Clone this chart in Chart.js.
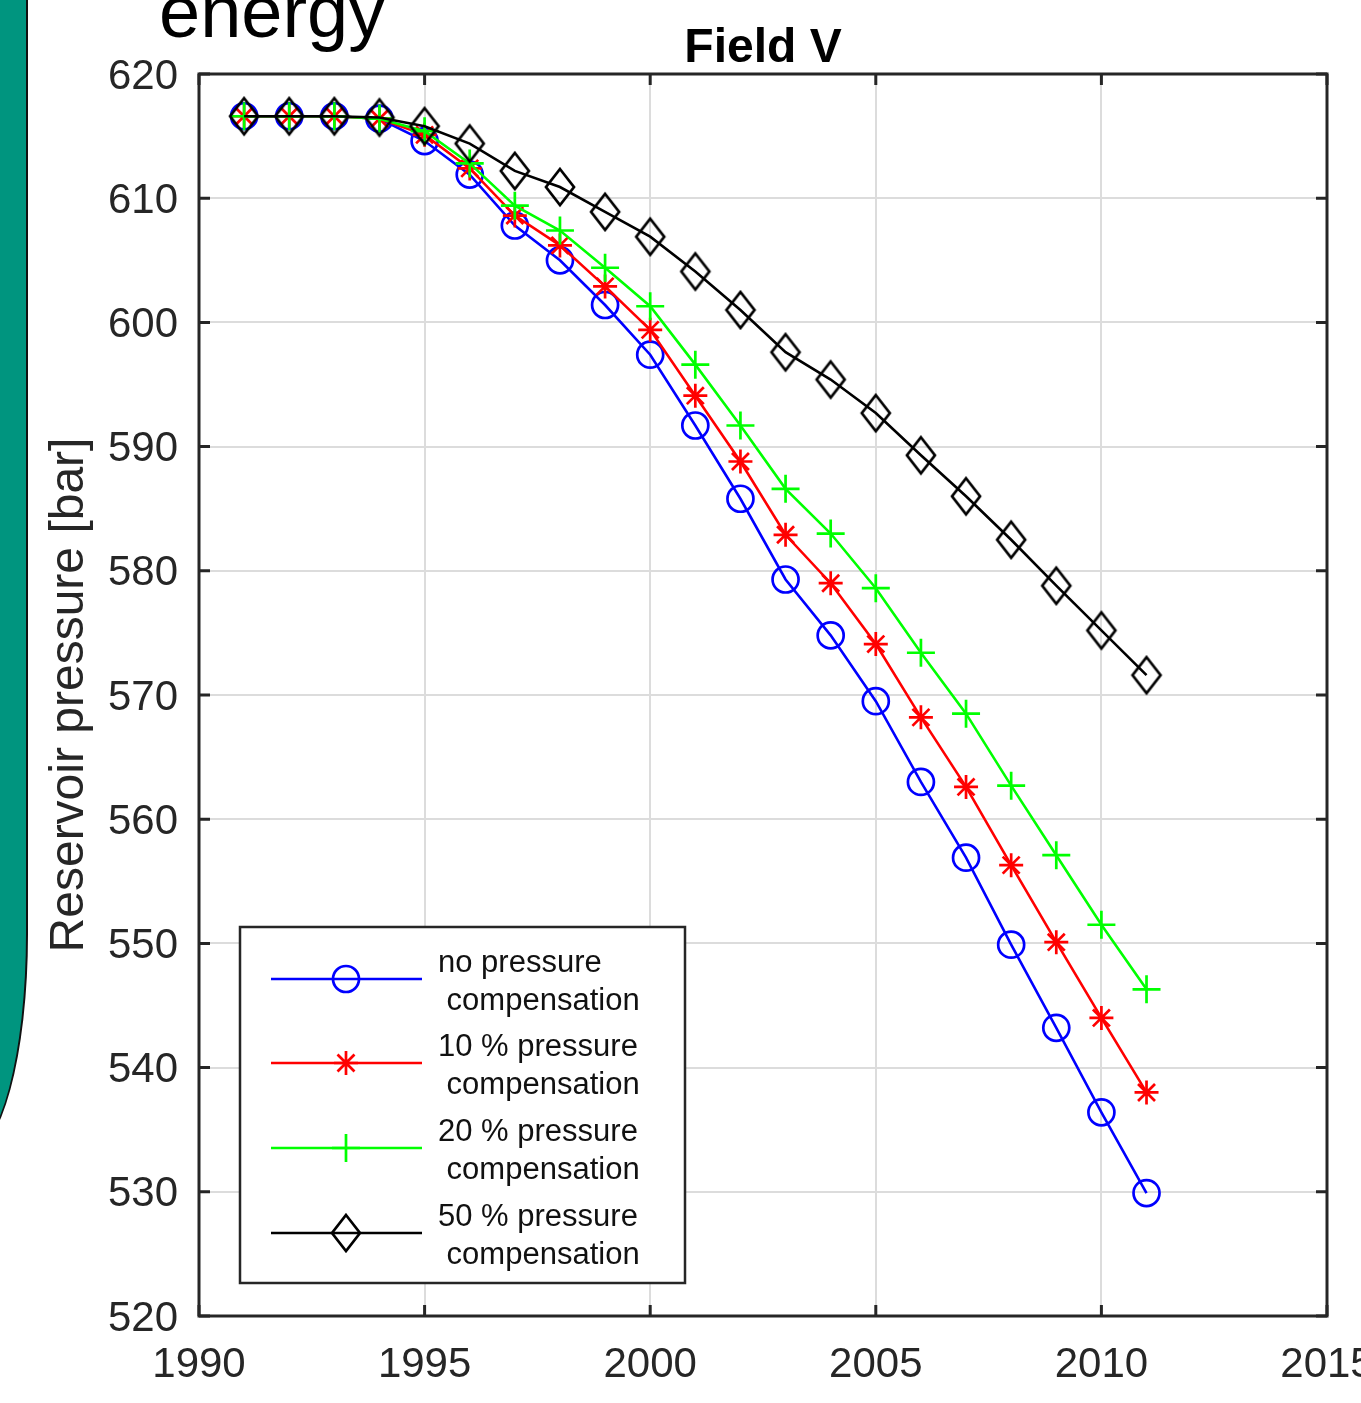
<!DOCTYPE html>
<html>
<head>
<meta charset="utf-8">
<script src="https://cdn.jsdelivr.net/npm/chart.js@4.4.1/dist/chart.umd.min.js"></script>
<style>
  html, body { margin: 0; padding: 0; background: #fff; }
  #wrap { position: relative; width: 1361px; height: 1403px; overflow: hidden; }
  #myChart { position: absolute; left: 0; top: 0; }
  #panel {
    position: absolute; left: -300px; top: -20px; width: 328px; height: 1174px;
    box-sizing: border-box; background: #00957f; border: 2px solid #111;
    border-bottom-right-radius: 60px 220px;
  }
  #word {
    position: absolute; left: 159px; top: -25px;
    font: 74px/74px "Liberation Sans", Arial, sans-serif; color: #000;
  }
</style>
</head>
<body>
<div id="wrap">
  <canvas id="myChart" width="1361" height="1403"></canvas>
  <div id="panel"></div>
  <div id="word">energy</div>
</div>
<script>
// reservoir pressure per year

const years = [1991, 1992, 1993, 1994, 1995, 1996, 1997, 1998, 1999, 2000,
               2001, 2002, 2003, 2004, 2005, 2006, 2007, 2008, 2009, 2010, 2011];

const noComp = [616.6, 616.6, 616.6, 616.4, 614.6, 611.9, 607.8, 605.0, 601.4, 597.4,
                591.7, 585.8, 579.3, 574.8, 569.5, 563.0, 556.9, 549.9, 543.2, 536.4, 529.9];
const comp10 = [616.6, 616.6, 616.6, 616.4, 615.1, 612.4, 608.6, 606.2, 602.9, 599.4,
                594.1, 588.8, 582.9, 579.0, 574.1, 568.2, 562.6, 556.3, 550.1, 544.0, 538.0];
const comp20 = [616.6, 616.6, 616.6, 616.4, 615.4, 612.8, 609.4, 607.4, 604.4, 601.3,
                596.6, 591.7, 586.6, 583.0, 578.6, 573.4, 568.5, 562.7, 557.1, 551.5, 546.3];
const comp50 = [616.6, 616.6, 616.6, 616.5, 615.8, 614.4, 612.2, 610.9, 608.9, 606.9,
                604.1, 601.0, 597.6, 595.4, 592.7, 589.3, 586.0, 582.5, 578.8, 575.2, 571.6];

const seriesNames = [
  ['no pressure', ' compensation'],
  ['10 % pressure', ' compensation'],
  ['20 % pressure', ' compensation'],
  ['50 % pressure', ' compensation']
];

const xTicks = [1990, 1995, 2000, 2005, 2010, 2015];
const yTicks = [520, 530, 540, 550, 560, 570, 580, 590, 600, 610, 620];

const FONT = '"Liberation Sans", Arial, sans-serif';
const AXIS = '#262626';

// matlab style diamond is taller than wide
function makeDiamond() {
  const c = document.createElement('canvas');
  c.width = 34; c.height = 42;
  const g = c.getContext('2d');
  g.strokeStyle = '#000';
  g.lineWidth = 2.7;
  g.beginPath();
  g.moveTo(17, 3); g.lineTo(31, 21); g.lineTo(17, 39); g.lineTo(3, 21);
  g.closePath();
  g.stroke();
  return c;
}
const diamond = makeDiamond();

function pts(vals) {
  return years.map((yr, i) => ({ x: yr, y: vals[i] }));
}

function series(i, vals, color, style, radius, order) {
  return {
    label: seriesNames[i].join(''),
    data: pts(vals),
    borderColor: color,
    backgroundColor: 'transparent',
    borderWidth: 2.6,
    pointStyle: style,
    pointRadius: radius,
    pointBorderColor: color,
    pointBackgroundColor: 'transparent',
    pointBorderWidth: 2.7,
    tension: 0,
    fill: false,
    order: order
  };
}

function drawMarker(ctx, style, x, y, r) {
  if (typeof style !== 'string') {
    ctx.drawImage(style, x - style.width / 2, y - style.height / 2);
    return;
  }
  ctx.beginPath();
  if (style === 'circle') {
    ctx.arc(x, y, r, 0, Math.PI * 2);
  } else {
    const n = style === 'star' ? 4 : 2;
    for (let k = 0; k < n; k++) {
      const a = k * Math.PI / n;
      ctx.moveTo(x - r * Math.sin(a), y - r * Math.cos(a));
      ctx.lineTo(x + r * Math.sin(a), y + r * Math.cos(a));
    }
  }
  ctx.stroke();
}

// box + inward ticks on all four sides
const framePlugin = {
  id: 'frame',
  beforeDatasetsDraw(chart) {
    const { ctx, chartArea: a, scales } = chart;
    ctx.save();
    ctx.strokeStyle = AXIS;
    ctx.lineWidth = 3;
    ctx.strokeRect(a.left, a.top, a.right - a.left, a.bottom - a.top);
    ctx.beginPath();
    scales.x.ticks.forEach(t => {
      const p = scales.x.getPixelForValue(t.value);
      ctx.moveTo(p, a.bottom); ctx.lineTo(p, a.bottom - 11);
      ctx.moveTo(p, a.top); ctx.lineTo(p, a.top + 11);
    });
    scales.y.ticks.forEach(t => {
      const p = scales.y.getPixelForValue(t.value);
      ctx.moveTo(a.left, p); ctx.lineTo(a.left + 11, p);
      ctx.moveTo(a.right, p); ctx.lineTo(a.right - 11, p);
    });
    ctx.stroke();
    ctx.restore();
  }
};

const titlePlugin = {
  id: 'fieldTitle',
  afterDraw(chart) {
    const { ctx, chartArea: a } = chart;
    ctx.save();
    ctx.fillStyle = '#000';
    ctx.font = 'bold 48px ' + FONT;
    ctx.textAlign = 'center';
    ctx.textBaseline = 'alphabetic';
    ctx.fillText('Field V', (a.left + a.right) / 2, 62);
    ctx.restore();
  }
};

const legendPlugin = {
  id: 'boxLegend',
  afterDraw(chart) {
    const ctx = chart.ctx;
    ctx.save();
    ctx.fillStyle = '#fff';
    ctx.fillRect(240, 927, 445, 356);
    ctx.strokeStyle = AXIS;
    ctx.lineWidth = 2.5;
    ctx.strokeRect(240, 927, 445, 356);
    const rows = [979, 1063, 1148, 1233];
    chart.data.datasets.forEach((ds, i) => {
      const y = rows[i];
      ctx.strokeStyle = ds.borderColor;
      ctx.lineWidth = 2.6;
      ctx.beginPath();
      ctx.moveTo(271, y); ctx.lineTo(422, y);
      ctx.stroke();
      ctx.lineWidth = 2.7;
      drawMarker(ctx, ds.pointStyle, 346, y, ds.pointRadius);
      ctx.fillStyle = '#111';
      ctx.font = '31px ' + FONT;
      ctx.textAlign = 'left';
      ctx.textBaseline = 'alphabetic';
      ctx.fillText(seriesNames[i][0], 438, y - 7.5);
      ctx.fillText(seriesNames[i][1], 438, y + 31);
    });
    ctx.restore();
  }
};

const ctx = document.getElementById('myChart').getContext('2d');
const myChart = new Chart(ctx, {
  type: 'line',
  data: {
    datasets: [
      series(0, noComp, '#0000ff', 'circle', 13, 3),
      series(1, comp10, '#ff0000', 'star', 12, 2),
      series(2, comp20, '#00ff00', 'cross', 14, 1),
      series(3, comp50, '#000000', diamond, 14, 0)
    ]
  },
  options: {
    responsive: false,
    animation: false,
    devicePixelRatio: 1,
    layout: { padding: { left: 0, right: 34, top: 74, bottom: 0 } },
    plugins: {
      legend: { display: false },
      title: { display: false },
      tooltip: { enabled: false }
    },
    scales: {
      x: {
        type: 'linear',
        min: 1990,
        max: 2015,
        afterBuildTicks: s => { s.ticks = xTicks.map(v => ({ value: v })); },
        afterFit: s => { s.height = 87; s.paddingLeft = 0; s.paddingRight = 0; },
        grid: { color: '#dcdcdc', lineWidth: 2, drawTicks: false },
        border: { display: false },
        ticks: {
          color: AXIS,
          font: { family: FONT, size: 42 },
          padding: 24,
          maxRotation: 0,
          autoSkip: false,
          callback: v => String(v)
        }
      },
      y: {
        type: 'linear',
        min: 520,
        max: 620,
        afterBuildTicks: s => { s.ticks = yTicks.map(v => ({ value: v })); },
        afterFit: s => { s.width = 199; s.paddingTop = 0; s.paddingBottom = 0; },
        grid: { color: '#dcdcdc', lineWidth: 2, drawTicks: false },
        border: { display: false },
        ticks: {
          color: AXIS,
          font: { family: FONT, size: 42 },
          padding: 21,
          labelOffset: 3,
          autoSkip: false
        },
        title: {
          display: true,
          text: 'Reservoir pressure [bar]',
          color: AXIS,
          font: { family: FONT, size: 48 },
          padding: { top: 41, bottom: 0 }
        }
      }
    }
  },
  plugins: [framePlugin, titlePlugin, legendPlugin]
});
</script>
</body>
</html>
